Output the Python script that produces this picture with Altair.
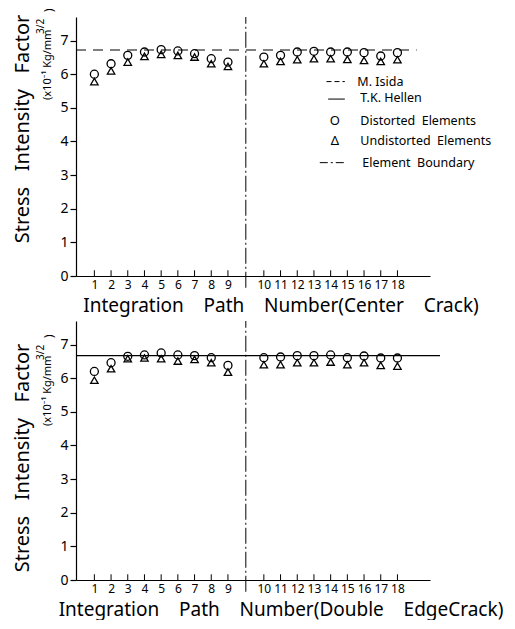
import altair as alt
import pandas as pd

# ---------------- data ----------------
paths = list(range(1, 19))
# horizontal position of each path on the axis (a gap separates the two element groups)
positions = [1, 2, 3, 4, 5, 6, 7, 8, 9,
             11.15, 12.15, 13.15, 14.15, 15.15, 16.15, 17.15, 18.15, 19.15]
tick_labels = [str(p) for p in paths]
y_ticks = [0, 1, 2, 3, 4, 5, 6, 7]

top_distorted = [6.00, 6.31, 6.56, 6.66, 6.73, 6.69, 6.61, 6.46, 6.36,
                 6.51, 6.56, 6.66, 6.68, 6.66, 6.66, 6.64, 6.54, 6.64]
top_undistorted = [5.78, 6.10, 6.36, 6.53, 6.59, 6.56, 6.51, 6.31, 6.23,
                   6.31, 6.38, 6.43, 6.46, 6.46, 6.44, 6.41, 6.38, 6.43]
bot_distorted = [6.20, 6.46, 6.65, 6.69, 6.75, 6.69, 6.67, 6.61, 6.38,
                 6.61, 6.63, 6.67, 6.67, 6.69, 6.61, 6.66, 6.60, 6.60]
bot_undistorted = [5.94, 6.28, 6.58, 6.60, 6.58, 6.51, 6.56, 6.46, 6.18,
                   6.40, 6.40, 6.46, 6.46, 6.48, 6.40, 6.46, 6.38, 6.36]

isida_value = 6.72      # M. Isida (top panel, dashed)
hellen_value = 6.67     # T.K. Hellen (bottom panel, solid)
boundary_pos = 10.07    # element boundary between paths 9 and 10

NB = "\u00a0"
GAP_X = " " + NB * 3    # wide word gaps of the hand lettering
GAP_Y = " " + NB * 2
GAP_L = " " + NB
legend_labels = ["M. Isida", "T.K. Hellen", f"Distorted{GAP_L}Elements",
                 f"Undistorted{GAP_L}Elements", f"Element{GAP_L}Boundary"]
legend_y = [5.78, 5.30, 4.62, 4.00, 3.37]
legend_text_x = [16.75, 16.93, 16.93, 16.93, 17.05]

FONT = "Noto Sans"
X_DOMAIN = [-0.1, 21.1]
Y_DOMAIN = [0, 7.7]
W, H = 354, 259

label_map = "{" + ",".join(f"'{p:.2f}':'{l}'" for p, l in zip(positions, tick_labels)) + "}"
label_expr = f"{label_map}[format(datum.value, '.2f')]"


def panel(dist, undist, ref_value, ref_dash, ref_end, xtitle, with_legend,
          ytitle, ytitle_y, sub_y, xtitle_dy):
    xs = alt.Scale(domain=X_DOMAIN, nice=False, zero=False)
    ys = alt.Scale(domain=Y_DOMAIN, nice=False)
    pts = pd.DataFrame({"pos": positions, "dist": dist, "undist": undist})

    xaxis = alt.Axis(values=positions, tickCount=40, labelExpr=label_expr, title=None,
                     ticks=False, labelPadding=3, labelFontSize=12, labelFont=FONT,
                     labelColor="black", domainColor="black", domainWidth=1.2,
                     grid=False, labelFlush=False, labelOverlap=False)
    yaxis = alt.Axis(values=y_ticks, tickCount=20, format="d", title=None, tickSize=6,
                     tickColor="black", tickWidth=1.2, labelPadding=2, labelFontSize=14,
                     labelFont=FONT, labelColor="black", domainColor="black",
                     domainWidth=1.2, grid=False, labelFlush=False, labelOverlap=False)

    def X(field):
        return alt.X(field, scale=xs, title=None)

    def Y(field):
        return alt.Y(field, scale=ys, title=None)

    circles = alt.Chart(pts).mark_point(shape="circle", size=64, filled=False,
                                        color="black", strokeWidth=1.3, opacity=1).encode(
        x=alt.X("pos:Q", scale=xs, axis=xaxis),
        y=alt.Y("dist:Q", scale=ys, axis=yaxis))
    tris = alt.Chart(pts).mark_point(shape="triangle-up", size=55, filled=False,
                                     color="black", strokeWidth=1.3, opacity=1).encode(
        x=X("pos:Q"), y=Y("undist:Q"))

    inner_ticks = alt.Chart(pd.DataFrame({"pos": positions, "y0": [0.0] * 18,
                                          "y1": [0.17] * 18})).mark_rule(
        color="black", strokeWidth=1).encode(x=X("pos:Q"), y=Y("y0:Q"), y2="y1:Q")

    ref_df = pd.DataFrame({"x0": [X_DOMAIN[0]], "x1": [ref_end], "v": [ref_value]})
    ref_kw = dict(color="black", strokeWidth=1.1)
    if ref_dash:
        ref_kw["strokeDash"] = ref_dash
    ref = alt.Chart(ref_df).mark_rule(clip=False, **ref_kw).encode(
        x=X("x0:Q"), x2="x1:Q", y=Y("v:Q"))

    bnd_df = pd.DataFrame({"b": [boundary_pos], "y0": [-0.35], "y1": [Y_DOMAIN[1]]})
    boundary = alt.Chart(bnd_df).mark_rule(color="black", strokeWidth=1,
                                           strokeDash=[16, 3, 2, 3], clip=False).encode(
        x=X("b:Q"), y=Y("y0:Q"), y2="y1:Q")

    one = pd.DataFrame({"k": [0]})
    ytitle_m = alt.Chart(one).mark_text(
        text=ytitle, angle=270, fontSize=20, font=FONT,
        align="center", baseline="middle", color="black").encode(
        x=alt.value(-53), y=alt.value(ytitle_y))
    sub1 = alt.Chart(one).mark_text(
        text="(x10⁻¹ Kg/mm", angle=270, fontSize=11, font=FONT,
        align="left", baseline="middle", color="black").encode(
        x=alt.value(-28), y=alt.value(sub_y))
    sub2 = alt.Chart(one).mark_text(
        text="3/2", angle=270, fontSize=10, font=FONT,
        align="left", baseline="middle", color="black").encode(
        x=alt.value(-35), y=alt.value(sub_y - 66))
    sub3 = alt.Chart(one).mark_text(
        text=")", angle=270, fontSize=12, font=FONT,
        align="left", baseline="middle", color="black").encode(
        x=alt.value(-27), y=alt.value(sub_y - 88))
    xt = alt.Chart(one).mark_text(
        text=xtitle, fontSize=19, font=FONT, align="center", baseline="middle",
        color="black").encode(x=alt.value(205), y=alt.value(H + xtitle_dy))

    layers = [circles, tris, ref, boundary, inner_ticks, ytitle_m, sub1, sub2, sub3, xt]

    if with_legend:
        leg_txt = pd.DataFrame({"x": legend_text_x, "y": legend_y, "t": legend_labels})
        leg_text = alt.Chart(leg_txt).mark_text(
            align="left", baseline="middle", fontSize=12.5, font=FONT, color="black").encode(
            x=X("x:Q"), y=Y("y:Q"), text="t:N")
        leg_sym = alt.Chart(pd.DataFrame({"x": [15.4, 15.4], "y": [legend_y[2], legend_y[3]],
                                          "t": ["O", "Δ"]})).mark_text(
            align="center", baseline="middle", fontSize=13, font=FONT, color="black").encode(
            x=X("x:Q"), y=Y("y:Q"), text="t:N")
        lines = [
            (14.9, 16.0, legend_y[0], [5, 3]),
            (15.0, 16.0, legend_y[1] - 0.04, None),
            (14.5, 16.0, legend_y[4], [8, 3, 2, 3]),
        ]
        for x0, x1, yy, dash in lines:
            kw = dict(color="black", strokeWidth=1)
            if dash:
                kw["strokeDash"] = dash
            layers.append(alt.Chart(pd.DataFrame({"x0": [x0], "x1": [x1], "y": [yy]})).mark_rule(**kw).encode(
                x=X("x0:Q"), x2="x1:Q", y=Y("y:Q")))
        layers += [leg_text, leg_sym]

    return alt.layer(*layers).properties(width=W, height=H)


top = panel(top_distorted, top_undistorted, isida_value, [10, 7], 20.3,
            f"Integration{GAP_X}Path{GAP_X}Number(Center{GAP_X}Crack)", True,
            ytitle=f"Stress{GAP_Y}Intensity{GAP_Y}Factor",
            ytitle_y=112, sub_y=83, xtitle_dy=30)
bottom = panel(bot_distorted, bot_undistorted, hellen_value, None, 21.7,
               f"Integration{GAP_X}Path{GAP_X}Number(Double{GAP_X}EdgeCrack)", False,
               ytitle=f"Stress{GAP_Y}Intensity{GAP_Y}Factor",
               ytitle_y=137, sub_y=105, xtitle_dy=30)

chart = alt.vconcat(top, bottom, spacing=45, bounds="flush").properties(
    padding={"left": 4, "top": 0, "right": 0, "bottom": 0}
).configure_view(stroke=None).configure_axis(labelOverlap=False)

chart.save("out.html", embed_options={"renderer": "svg", "actions": False})
